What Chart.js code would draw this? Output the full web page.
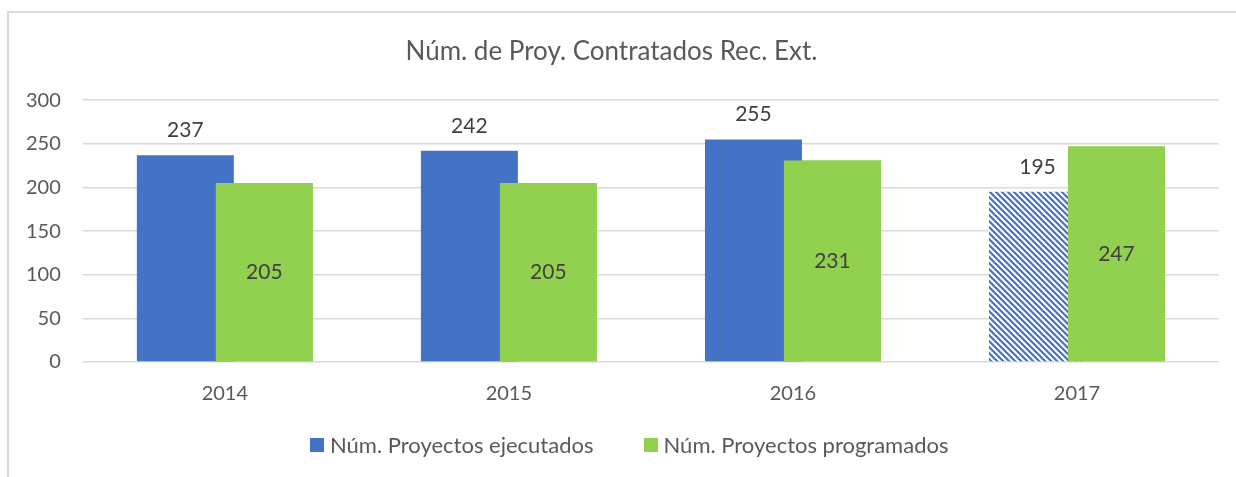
<!DOCTYPE html>
<html>
<head>
<meta charset="utf-8">
<script src="https://cdn.jsdelivr.net/npm/chart.js@4.4.0/dist/chart.umd.min.js"></script>
<style>
    html, body { margin: 0; padding: 0; background: #fff; }
    #wrap   { position: relative; width: 1236px; height: 477px; overflow: hidden; }
    #frame  { position: absolute; left: 7px; top: 11px; width: 1400px; height: 600px;
              border-left: 2px solid #d9d9d9; border-top: 2px solid #d9d9d9; }
    #c1     { position: absolute; left: 0; top: 0; }
    #legend { position: absolute; left: 310px; top: 433px; height: 24px; display: flex; align-items: center;
              font: 22px Lato, "Open Sans", sans-serif; color: #595959; line-height: 24px; white-space: nowrap; }
    #legend .item { display: flex; align-items: center; }
    #legend .item + .item { margin-left: 50px; }
    #legend .box  { width: 14px; height: 14px; margin-right: 6px; }
</style>
</head>
<body>
<div id="wrap">
    <div id="frame"></div>
    <canvas id="c1" width="1236" height="477"></canvas>
    <div id="legend"></div>
</div>
<script>
/* ── Data ─────────────────────────────────────────────── */
const years       = ['2014', '2015', '2016', '2017'];
const ejecutados  = [237, 242, 255, 195];
const programados = [205, 205, 231, 247];
const yTicks      = [0, 50, 100, 150, 200, 250, 300];

const BLUE  = '#4472C4';
const GREEN = '#92D050';
const TEXT  = '#595959';
const FONT  = 'Lato, "Open Sans", sans-serif';

/* ── Hatch pattern for the 2017 (partial) bar ─────────── */
function hatch() {
    const t = document.createElement('canvas');
    t.width = 6; t.height = 6;
    const g = t.getContext('2d');
    g.fillStyle = '#fff';
    g.fillRect(0, 0, 6, 6);
    g.strokeStyle = BLUE;
    g.lineWidth = 2.2;
    g.beginPath();
    g.moveTo(-3, -3); g.lineTo(9, 9);
    g.moveTo(-3, 3);  g.lineTo(3, 9);
    g.moveTo(3, -3);  g.lineTo(9, 3);
    g.stroke();
    return g.createPattern(t, 'repeat');
}
const HATCH = hatch();

/* ── Green bars overlap the blue ones: redraw them on top,
      then the value labels (no datalabels plugin here) ── */
const valueLabels = {
    id: 'valueLabels',
    afterDatasetsDraw(chart) {
        chart.getDatasetMeta(1).controller.draw();
        const ctx = chart.ctx;
        ctx.save();
        ctx.font = '21px ' + FONT;
        ctx.fillStyle = '#404040';
        ctx.textAlign = 'center';
        ctx.textBaseline = 'middle';
        chart.data.datasets.forEach(function (ds, i) {
            chart.getDatasetMeta(i).data.forEach(function (bar, j) {
                const y = i === 0 ? bar.y - 25 : (bar.y + bar.base) / 2;
                ctx.fillText(String(ds.data[j]), bar.x, y);
            });
        });
        ctx.restore();
    },
};

const chart = new Chart(document.getElementById('c1'), {
    type: 'bar',
    data: {
        labels: years,
        datasets: [
            {
                label: 'Núm. Proyectos ejecutados',
                data: ejecutados,
                backgroundColor: ejecutados.map((v, i) => i === 3 ? HATCH : BLUE),
                categoryPercentage: 0.556,
                barPercentage: 1.228,
            },
            {
                label: 'Núm. Proyectos programados',
                data: programados,
                backgroundColor: GREEN,
                categoryPercentage: 0.556,
                barPercentage: 1.228,
            },
        ],
    },
    options: {
        responsive: false,
        animation: false,
        layout: { padding: { top: 26, left: 4, right: 17, bottom: 59 } },
        plugins: {
            title: {
                display: true,
                text: 'Núm. de Proy. Contratados Rec. Ext.',
                color: TEXT,
                font: { family: FONT, size: 26, weight: 'normal' },
                padding: { top: 10, bottom: 33 },
            },
            legend: { display: false },
            tooltip: { enabled: false },
        },
        scales: {
            x: {
                grid: { display: false },
                border: { display: false },
                ticks: { color: TEXT, font: { family: FONT, size: 20 }, padding: 12 },
            },
            y: {
                min: 0,
                max: 300,
                afterBuildTicks(axis) { axis.ticks = yTicks.map(v => ({ value: v })); },
                grid: { color: '#d9d9d9', lineWidth: 1.5, drawTicks: false },
                border: { display: false },
                ticks: { color: TEXT, font: { family: FONT, size: 20 }, padding: 22 },
            },
        },
    },
    plugins: [valueLabels],
});

/* ── HTML legend (Excel-style spacing) ─────────────────── */
const legendEl = document.getElementById('legend');
chart.data.datasets.forEach(function (ds, i) {
    const item = document.createElement('span');
    item.className = 'item';
    const box = document.createElement('span');
    box.className = 'box';
    box.style.background = i === 0 ? BLUE : GREEN;
    item.appendChild(box);
    item.appendChild(document.createTextNode(ds.label));
    legendEl.appendChild(item);
});
</script>
</body>
</html>
